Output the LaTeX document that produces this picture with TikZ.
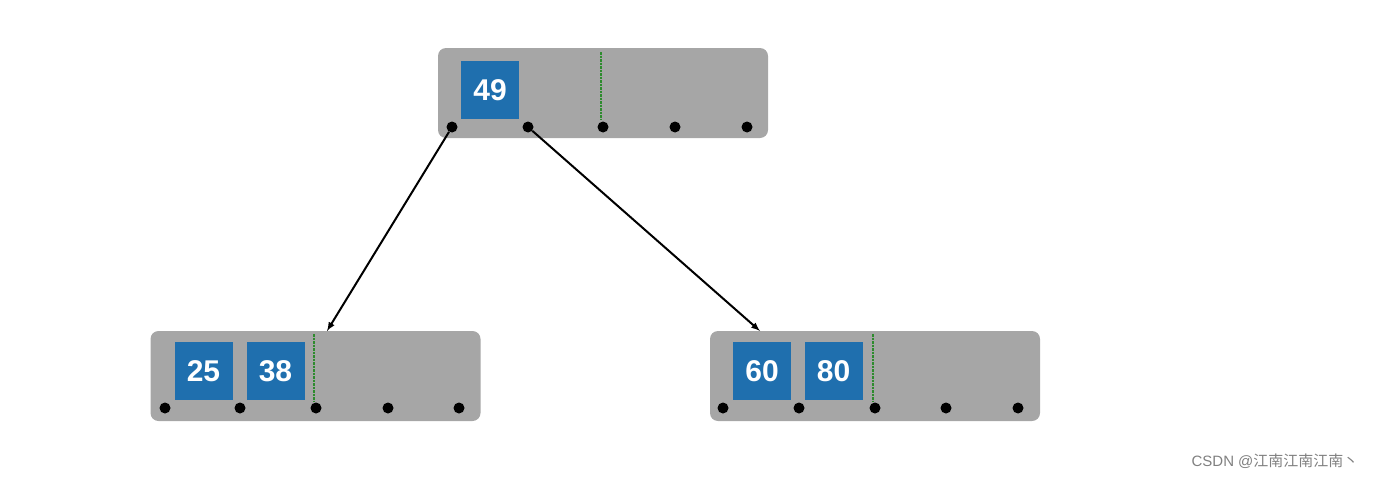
\documentclass[tikz,border=0pt]{standalone}
\usepackage{fontspec}
\setmainfont{Liberation Sans}
\newfontfamily\cjk{Noto Sans CJK SC}
\usetikzlibrary{positioning}
\definecolor{nodegray}{HTML}{A6A6A6}
\definecolor{keyblue}{HTML}{1F6FAE}
\definecolor{ptrgreen}{HTML}{2E8B2E}
\begin{document}
\begin{tikzpicture}[x=1pt,y=-1pt,
            page/.style = {fill=nodegray, rounded corners=8pt, minimum width=330pt, minimum height=90pt, inner sep=0pt},
            key/.style = {fill=keyblue, text=white, minimum width=58pt, minimum height=58pt, inner sep=0pt,
                font=\fontsize{30}{30}\selectfont\bfseries},
            ptr/.style = {fill=black, circle, minimum size=11pt, inner sep=0pt},
            split/.style = {ptrgreen, densely dotted, line width=2.5pt},
            link/.style = {draw, line width=2pt, -latex}
        ]
        \useasboundingbox (0,0) rectangle (1373,479);
        % root page
        \node[page] (root) at (603,93) {};
        \node[key] (k49) at (490,90) {49};
        \foreach \x [count=\i] in {452,528,603,675,747}
            \node[ptr] (r\i) at (\x,127) {};
        \draw[split] (601,52) -- (601,120);
        % left leaf
        \node[page] (left) at (315.5,376) {};
        \node[key] (k25) at (203.5,371) {25};
        \node[key] (k38) at (275.5,371) {38};
        \foreach \x [count=\i] in {165,240,316,388,459}
            \node[ptr] (l\i) at (\x,408) {};
        \draw[split] (314,334) -- (314,402);
        % right leaf
        \node[page] (right) at (875,376) {};
        \node[key] (k60) at (762,371) {60};
        \node[key] (k80) at (833.5,371) {80};
        \foreach \x [count=\i] in {723,799,875,946,1018}
            \node[ptr] (q\i) at (\x,408) {};
        \draw[split] (873,334) -- (873,402);
        % links
        \coordinate (lt) at (327,331);
        \coordinate (rt) at (760,331);
        \draw[link] (r1) -- (lt);
        \draw[link] (r2) -- (rt);
        \node[text=gray, font=\fontsize{15}{15}\selectfont, anchor=east] (wm) at (1362,461) {CSDN @{\cjk 江南江南江南丶}};
\end{tikzpicture}
\end{document}
